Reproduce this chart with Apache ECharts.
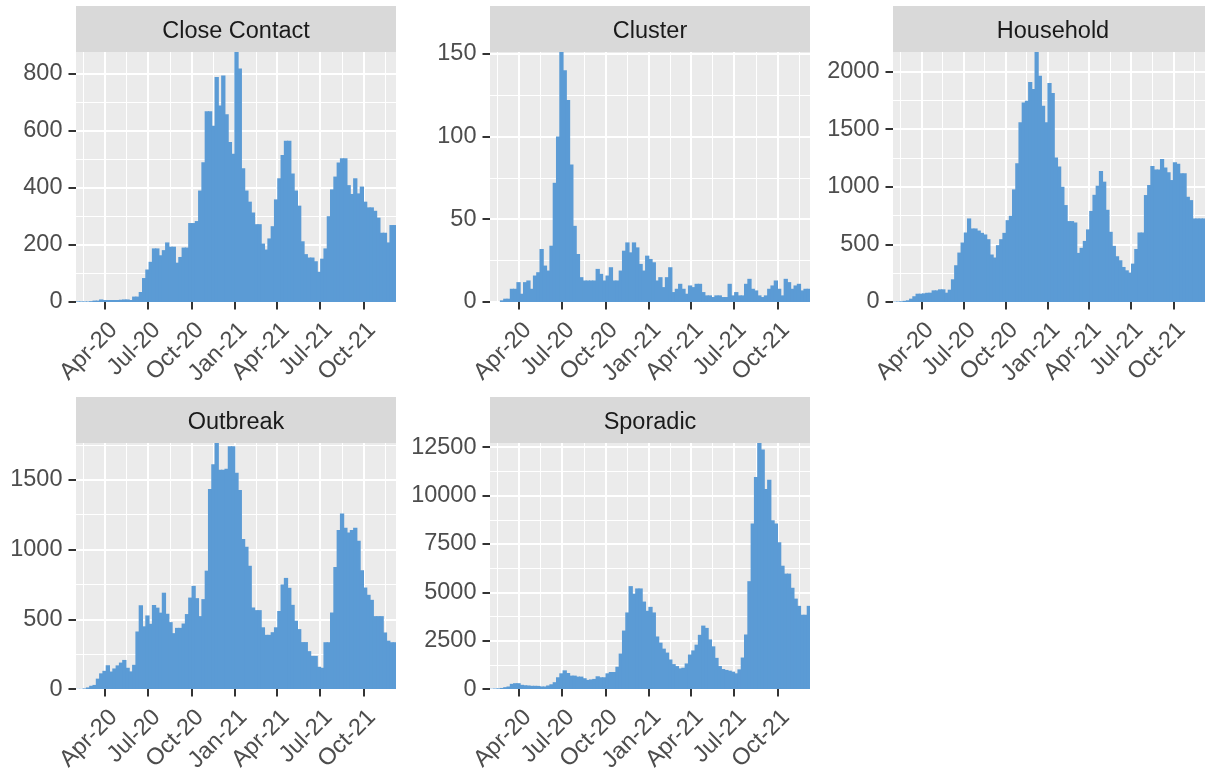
<!DOCTYPE html>
<html>
<head>
<meta charset="utf-8">
<script src="https://cdn.jsdelivr.net/npm/echarts@6/dist/echarts.min.js"></script>
<style>
html,body{margin:0;padding:0;background:#ffffff;}
#chart{width:1205px;height:775px;}
</style>
</head>
<body>
<div id="chart"></div>
<script>
// ---------------- data ----------------
const firstBinStart = '2020-01-30';   // first weekly bin
const binDays = 7;
const panelNames = ['Close Contact', 'Cluster', 'Household', 'Outbreak', 'Sporadic'];

const closeContact = [2,2,2,2,3,5,5,9,7,7, 7,7,7,8,9,9,7,19,19,35,
  84,114,141,188,188,164,182,209,194,194, 138,158,191,191,277,277,284,391,490,669,
  669,618,789,689,795,659,561,520,877,819, 469,391,352,314,273,273,205,184,223,266,
  360,434,516,566,566,451,391,338,213,168, 156,156,143,106,152,188,301,395,440,489,
  504,504,410,379,434,381,405,352,332,332, 320,296,243,243,209,270,270];

const cluster = [0,0,0,1,2,2,8,8,12,5, 12,13,8,16,18,32,22,19,34,72,
  100,151,140,122,83,46,29,15,13,13, 13,13,20,17,13,16,21,13,13,19,
  31,36,30,36,33,23,19,28,26,24, 13,15,9,15,21,6,8,11,8,5,
  10,9,11,11,6,4,4,3,4,4, 3,3,11,4,6,4,4,11,14,8,
  7,4,3,4,8,10,13,8,4,14, 12,8,10,11,7,8,8];

const household = [3,4,6,10,15,29,50,72,72,75, 80,81,101,101,110,110,81,107,197,319,
  429,516,603,725,638,638,620,600,586,545, 412,386,493,545,600,710,748,977,1203,1560,
  1731,1746,1908,1847,2169,1963,1702,1560,1900,1813, 1253,1175,1000,841,702,702,690,426,470,530,
  630,790,930,1009,1137,1044,800,609,487,397, 362,304,275,255,333,460,603,603,928,1015,
  1180,1150,1150,1240,1168,1125,1058,1212,1200,1116, 1116,913,884,725,725,725,725];

const outbreak = [2,2,5,12,24,30,75,113,131,171, 126,148,170,190,209,153,127,174,413,601,
  450,528,468,603,584,548,691,540,480,401, 439,439,470,538,656,740,652,523,645,849,
  1434,1612,1764,1572,1572,1580,1740,1740,1550,1427, 1075,1021,884,585,566,566,443,389,389,408,
  443,560,750,797,726,604,490,430,337,337, 272,238,238,160,153,336,336,549,875,1140,
  1258,1157,1122,1140,1157,1063,852,728,676,640, 523,523,523,406,347,336,336];

const sporadic = [20,30,40,60,100,136,272,306,306,221, 200,187,170,170,165,136,136,187,250,357,
  612,816,969,833,697,697,646,646,561,476, 500,527,663,612,612,816,884,884,1156,1836,
  3026,3961,5321,4930,5202,5202,4522,4046,4250,3961, 2720,2400,2091,1887,1530,1292,1190,1071,1105,1326,
  1785,2000,2295,2805,3281,3162,2567,2210,1615,1190, 1037,990,952,901,816,1020,1632,2822,5576,8551,
  10965,12716,12376,10336,10812,8721,8551,7582,6375,5967, 5967,5236,4675,4301,3842,3842,4301];

const xTickDates  = ['2020-04-01','2020-07-01','2020-10-01','2021-01-01','2021-04-01','2021-07-01','2021-10-01'];
const xTickLabels = ['Apr-20','Jul-20','Oct-20','Jan-21','Apr-21','Jul-21','Oct-21'];
const xMinorDates = ['2020-02-15','2020-05-16','2020-08-16','2020-11-16','2021-02-15','2021-05-16','2021-08-16','2021-11-16'];

const yTicksCloseContact = [0,200,400,600,800];
const yMinorCloseContact = [100,300,500,700];
const yTicksCluster = [0,50,100,150];
const yMinorCluster = [25,75,125];
const yTicksHousehold = [0,500,1000,1500,2000];
const yMinorHousehold = [250,750,1250,1750];
const yTicksOutbreak = [0,500,1000,1500];
const yMinorOutbreak = [250,750,1250,1750];
const yTicksSporadic = [0,2500,5000,7500,10000,12500];
const yMinorSporadic = [1250,3750,6250,8750,11250];

// ---------------- build ----------------
const DAY = 86400000;
const t0 = Date.parse(firstBinStart);
const W = binDays * DAY;
const nBins = closeContact.length;
const xMin = t0, xMax = t0 + nBins * W;
const toMs = s => Date.parse(s);
const tickMs = xTickDates.map(toMs);
const minorMs = xMinorDates.map(toMs);

const FONT = '"Liberation Sans", Arial, Helvetica, sans-serif';
const BAR = '#5B9BD5';
const PANEL_BG = '#EBEBEB';
const STRIP_BG = '#D9D9D9';
const AXIS_TXT = '#4D4D4D';
const TICK_COL = '#333333';
const FS = 23.5;

const panels = [
  {name: panelNames[0], values: closeContact, ticks: yTicksCloseContact, minor: yMinorCloseContact, left: 76,  top: 52},
  {name: panelNames[1], values: cluster,      ticks: yTicksCluster,      minor: yMinorCluster,      left: 490, top: 52},
  {name: panelNames[2], values: household,    ticks: yTicksHousehold,    minor: yMinorHousehold,    left: 893, top: 52},
  {name: panelNames[3], values: outbreak,     ticks: yTicksOutbreak,     minor: yMinorOutbreak,     left: 76,  top: 443},
  {name: panelNames[4], values: sporadic,     ticks: yTicksSporadic,     minor: yMinorSporadic,     left: 490, top: 443}
];
const PW = 320, PH = 250, STRIP_H = 46;

const grid = [], xAxis = [], yAxis = [], series = [], graphic = [];

panels.forEach((p, i) => {
  grid.push({left: p.left, top: p.top, width: PW, height: PH, show: true,
    backgroundColor: PANEL_BG, borderWidth: 0, containLabel: false});
  const ymax = Math.max.apply(null, p.values);
  xAxis.push({type: 'value', gridIndex: i, min: xMin, max: xMax,
    axisLine: {show: false},
    axisTick: {show: true, length: 7.5, customValues: tickMs, lineStyle: {color: TICK_COL, width: 2}},
    axisLabel: {show: true, customValues: tickMs, rotate: 45, align: 'right', verticalAlign: 'top',
      margin: 16, color: AXIS_TXT, fontSize: FS, fontFamily: FONT,
      formatter: v => { const k = tickMs.indexOf(v); return k >= 0 ? xTickLabels[k] : ''; }},
    splitLine: {show: true, lineStyle: {color: '#FFFFFF', width: 2.1}}
  });
  xAxis.push({type: 'value', gridIndex: i, min: xMin, max: xMax,
    axisLine: {show: false}, axisLabel: {show: false},
    axisTick: {show: false, customValues: minorMs},
    splitLine: {show: true, lineStyle: {color: '#FFFFFF', width: 1.05}}
  });
  yAxis.push({type: 'value', gridIndex: i, min: 0, max: ymax,
    axisLine: {show: false},
    axisTick: {show: true, length: 7.5, customValues: p.ticks, lineStyle: {color: TICK_COL, width: 2}},
    axisLabel: {show: true, customValues: p.ticks, margin: 13.5, color: AXIS_TXT, fontSize: FS, fontFamily: FONT,
      formatter: v => String(v)},
    splitLine: {show: true, lineStyle: {color: '#FFFFFF', width: 2.1}}
  });
  yAxis.push({type: 'value', gridIndex: i, min: 0, max: ymax, position: 'left',
    axisLine: {show: false}, axisLabel: {show: false},
    axisTick: {show: false, customValues: p.minor},
    splitLine: {show: true, lineStyle: {color: '#FFFFFF', width: 1.05}}
  });
  const data = p.values.map((v, k) => [t0 + k * W, t0 + (k + 1) * W, v]);
  series.push({type: 'custom', xAxisIndex: 2 * i, yAxisIndex: 2 * i, clip: true,
    encode: {x: [0, 1], y: 2}, data: data, silent: true, animation: false,
    renderItem: (params, api) => {
      const a = api.coord([api.value(0), api.value(2)]);
      const b = api.coord([api.value(1), 0]);
      return {type: 'rect', shape: {x: a[0], y: a[1], width: b[0] - a[0] + 1, height: b[1] - a[1]},
        style: {fill: BAR, stroke: null}};
    }
  });
  graphic.push({type: 'rect', left: p.left, top: p.top - STRIP_H, z: 10,
    shape: {x: 0, y: 0, width: PW, height: STRIP_H}, style: {fill: STRIP_BG}});
  graphic.push({type: 'text', x: p.left + PW / 2, y: p.top - STRIP_H / 2 + 3, z: 11,
    style: {text: p.name, fill: '#1A1A1A', font: FS + 'px ' + FONT,
      align: 'center', verticalAlign: 'middle', textAlign: 'center', textVerticalAlign: 'middle'}});
});

const chart = echarts.init(document.getElementById('chart'), null, {renderer: 'canvas'});
chart.setOption({animation: false, backgroundColor: '#FFFFFF', grid, xAxis, yAxis, series, graphic});
</script>
</body>
</html>
